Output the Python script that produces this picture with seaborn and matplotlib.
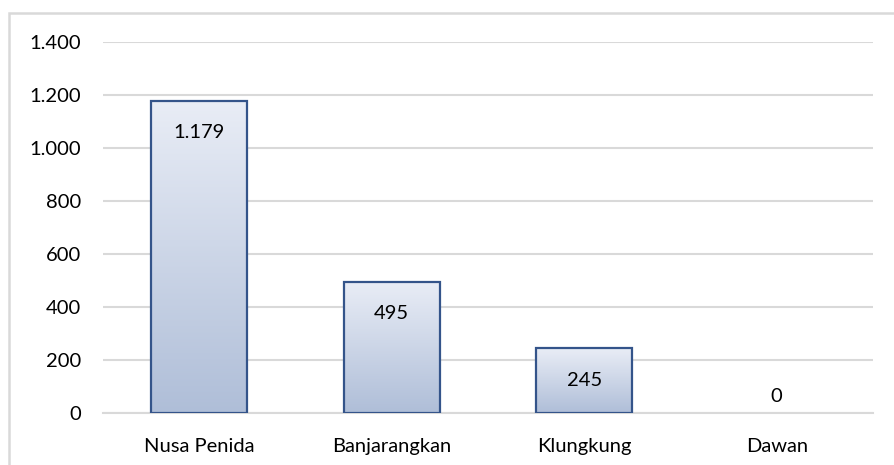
import numpy as np
import pandas as pd
import matplotlib
matplotlib.use("Agg")
import matplotlib.pyplot as plt
from matplotlib.patches import Rectangle
import seaborn as sns

# --- data ---
kecamatan = ["Nusa Penida", "Banjarangkan", "Klungkung", "Dawan"]
jumlah = [1179, 495, 245, 0]
y_ticks = [0, 200, 400, 600, 800, 1000, 1200, 1400]
y_tick_labels = ["0", "200", "400", "600", "800", "1.000", "1.200", "1.400"]

df = pd.DataFrame({"kecamatan": kecamatan, "jumlah": jumlah})

sns.set_theme(style="white")
plt.rcParams["font.family"] = ["Lato", "DejaVu Sans"]

FS = 14.5
GRID = "#d9d9d9"
EDGE = "#34548a"

fig = plt.figure(figsize=(8.95, 4.65), dpi=100)
ax = fig.add_axes([103 / 895, 1 - 413 / 465, (873 - 103) / 895, (413 - 42) / 465])

sns.barplot(data=df, x="kecamatan", y="jumlah", width=0.5, ax=ax,
            color="white", edgecolor=EDGE, linewidth=1.6, zorder=3)

# gradient fill inside each bar
grad = np.linspace(0, 1, 256).reshape(-1, 1)
cmap = matplotlib.colors.LinearSegmentedColormap.from_list("g", ["#e9edf6", "#afbed8"])
for p in ax.patches:
    h = p.get_height()
    if h <= 0:
        p.set_visible(False)  # zero bar: nothing drawn
        continue
    x0 = p.get_x()
    w = p.get_width()
    p.set_facecolor("none")
    im = ax.imshow(grad, cmap=cmap, aspect="auto", origin="upper",
                   extent=[x0, x0 + w, 0, h], zorder=2.5)
    im.set_clip_path(p)

# value labels (inside end)
for i, v in enumerate(jumlah):
    lab = f"{v:,}".replace(",", ".")
    off = -23 if v > 0 else 12
    ax.annotate(lab, (i, v), xytext=(0, off), textcoords="offset points",
                ha="center", va="center", fontsize=FS, color="black", zorder=5)

ax.set_xlim(-0.5, 3.5)
ax.set_ylim(0, 1400)
ax.set_yticks(y_ticks)
ax.set_yticklabels(y_tick_labels)
ax.yaxis.grid(True, color=GRID, linewidth=1.5)
ax.set_axisbelow(True)
ax.set_xlabel("")
ax.set_ylabel("")
for s in ["top", "right", "left"]:
    ax.spines[s].set_visible(False)
ax.spines["bottom"].set_color(GRID)
ax.spines["bottom"].set_linewidth(1.5)
ax.tick_params(axis="both", length=0, labelsize=FS, colors="black")
ax.tick_params(axis="x", pad=18)
ax.tick_params(axis="y", pad=16)

# outer chart border (cut off at right and bottom)
fig.patches.append(Rectangle((9 / 895, -0.1), 1.2, 1.1 - 13 / 465,
                             transform=fig.transFigure, fill=False,
                             edgecolor=GRID, linewidth=1.8, zorder=0))

fig.savefig("out.png", dpi=100)
